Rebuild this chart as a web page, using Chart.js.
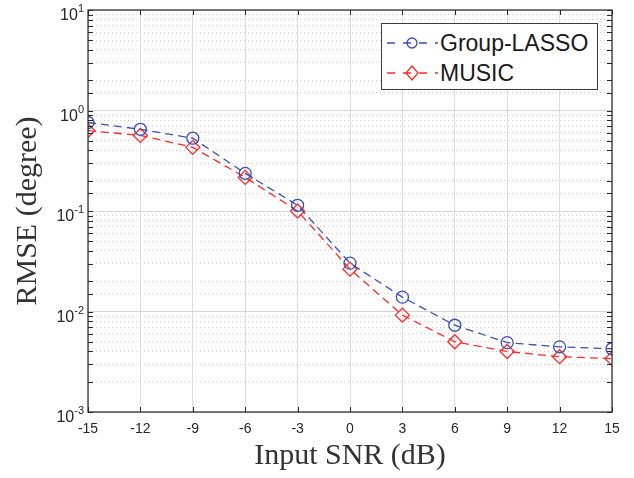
<!DOCTYPE html>
<html>
<head>
<meta charset="utf-8">
<script src="https://cdn.jsdelivr.net/npm/chart.js@4.4.1/dist/chart.umd.min.js"></script>
<style>
  html, body { margin: 0; padding: 0; background: #fff; }
  .wrap { position: relative; width: 634px; height: 478px; }
  .legend {
    position: absolute; left: 381px; top: 23px; width: 215px; height: 65px;
    border: 1px solid #3c3c3c; background: #fff;
    font-family: "Liberation Sans", Arial, sans-serif; font-size: 23px; color: #1a1a1a;
  }
  .legend .row { position: absolute; left: 4px; height: 30px; display: flex; align-items: center; }
  .legend svg { margin-right: 2px; }
</style>
</head>
<body>
<div class="wrap">
  <canvas id="chart" width="634" height="478"></canvas>
  <div class="legend">
    <div class="row" style="top:4px">
      <svg width="52" height="20"><line x1="0" y1="10" x2="52" y2="10" stroke="#3a4fb0" stroke-width="1.3" stroke-dasharray="8,8" stroke-dashoffset="-1"/><circle cx="26" cy="10" r="5" fill="none" stroke="#3a4fb0" stroke-width="1.3"/></svg>
      <span>Group-LASSO</span>
    </div>
    <div class="row" style="top:34px">
      <svg width="52" height="20"><line x1="0" y1="10" x2="52" y2="10" stroke="#ff2a2a" stroke-width="1.3" stroke-dasharray="8,8" stroke-dashoffset="-1"/><polygon points="26,3 32,10 26,17 20,10" fill="none" stroke="#ff2a2a" stroke-width="1.3"/></svg>
      <span>MUSIC</span>
    </div>
  </div>
</div>
<script>
const snr = [-15, -12, -9, -6, -3, 0, 3, 6, 9, 12, 15];
const groupLasso = [0.76, 0.65, 0.53, 0.237, 0.114, 0.0303, 0.0139, 0.0073, 0.0049, 0.00445, 0.00426];
const music = [0.63, 0.565, 0.43, 0.216, 0.1, 0.0264, 0.0092, 0.005, 0.004, 0.00355, 0.0034];
const yExponents = [-3, -2, -1, 0, 1];

const blue = "#3a4fb0";
const red = "#ff2a2a";
const sans = "Liberation Sans, Arial, sans-serif";
const tickFont = { family: sans, size: 14 };
const titleFont = { family: "Liberation Serif, Times New Roman, serif", size: 30 };

function isDecade(v) {
  const l = Math.log10(v);
  return Math.abs(l - Math.round(l)) < 1e-6;
}

// box round the plot, inward tick marks and 10^n labels
const frame = {
  id: "frame",
  afterDatasetsDraw(chart) {
    const { ctx, chartArea: a } = chart;
    const xs = chart.scales.x;
    const ys = chart.scales.y;
    ctx.save();
    ctx.strokeStyle = "#262626";
    ctx.lineWidth = 1;
    ctx.beginPath();
    xs.ticks.forEach((t) => {
      const px = Math.round(xs.getPixelForValue(t.value)) + 0.5;
      ctx.moveTo(px, a.bottom); ctx.lineTo(px, a.bottom - 5);
      ctx.moveTo(px, a.top); ctx.lineTo(px, a.top + 5);
    });
    ys.ticks.forEach((t) => {
      const py = Math.round(ys.getPixelForValue(t.value)) + 0.5;
      ctx.moveTo(a.left, py); ctx.lineTo(a.left + 5, py);
      ctx.moveTo(a.right, py); ctx.lineTo(a.right - 5, py);
    });
    ctx.stroke();
    ctx.lineWidth = 1.2;
    ctx.strokeRect(a.left, a.top, a.right - a.left, a.bottom - a.top);

    ctx.fillStyle = "#262626";
    ctx.textBaseline = "alphabetic";
    yExponents.forEach((e) => {
      const py = ys.getPixelForValue(Math.pow(10, e));
      ctx.font = "11px " + sans;
      const expW = ctx.measureText(String(e)).width;
      ctx.font = "16px " + sans;
      const baseW = ctx.measureText("10").width;
      const right = a.left - 4;
      ctx.textAlign = "left";
      ctx.fillText("10", right - expW - baseW, py + 10);
      ctx.font = "11px " + sans;
      ctx.fillText(String(e), right - expW, py + 2);
    });
    ctx.restore();
  },
};

new Chart(document.getElementById("chart"), {
  type: "line",
  data: {
    datasets: [
      {
        label: "Group-LASSO",
        data: snr.map((x, i) => ({ x, y: groupLasso[i] })),
        borderColor: blue,
        borderWidth: 1.3,
        borderDash: [8, 5],
        pointStyle: "circle",
        pointRadius: 6,
        pointBorderWidth: 1.3,
        pointBorderColor: blue,
        pointBackgroundColor: "rgba(0,0,0,0)",
        tension: 0,
      },
      {
        label: "MUSIC",
        data: snr.map((x, i) => ({ x, y: music[i] })),
        borderColor: red,
        borderWidth: 1.3,
        borderDash: [8, 5],
        pointStyle: "rectRot",
        pointRadius: 7,
        pointBorderWidth: 1.3,
        pointBorderColor: red,
        pointBackgroundColor: "rgba(0,0,0,0)",
        tension: 0,
      },
    ],
  },
  options: {
    responsive: false,
    animation: false,
    layout: { padding: { top: 10, right: 22, left: 0, bottom: 0 } },
    plugins: { legend: { display: false }, tooltip: { enabled: false } },
    scales: {
      x: {
        type: "linear",
        min: -15,
        max: 15,
        afterBuildTicks: (s) => { s.ticks = snr.map((v) => ({ value: v })); },
        ticks: { autoSkip: false, maxRotation: 0, color: "#262626", font: tickFont, padding: 9 },
        grid: { color: "#dcdcdc", lineWidth: 1, drawTicks: false },
        border: { display: false },
        title: { display: true, text: "Input SNR (dB)", color: "#333", font: titleFont, padding: { top: 0 } },
        afterFit: (s) => { s.height = 66; },
      },
      y: {
        type: "logarithmic",
        min: 0.001,
        max: 10,
        ticks: { display: false, autoSkip: false },
        grid: {
          color: (c) => (c.tick && isDecade(c.tick.value) ? "#d4d4d4" : "rgba(0,0,0,0)"),
          lineWidth: 1,
          drawTicks: false,
        },
        border: { display: false },
        title: { display: true, text: "RMSE (degree)", color: "#333", font: titleFont, padding: { top: 10, bottom: 0 } },
        afterFit: (s) => { s.width = 88; },
      },
      yMinor: {
        type: "logarithmic",
        position: "right",
        min: 0.001,
        max: 10,
        ticks: { display: false, autoSkip: false },
        grid: {
          color: (c) => (c.tick && !isDecade(c.tick.value) ? "#cfcfcf" : "rgba(0,0,0,0)"),
          lineWidth: 1,
          drawTicks: false,
        },
        border: { display: false, dash: [1, 3] },
        afterFit: (s) => { s.width = 0; },
      },
    },
  },
  plugins: [frame],
});
</script>
</body>
</html>
